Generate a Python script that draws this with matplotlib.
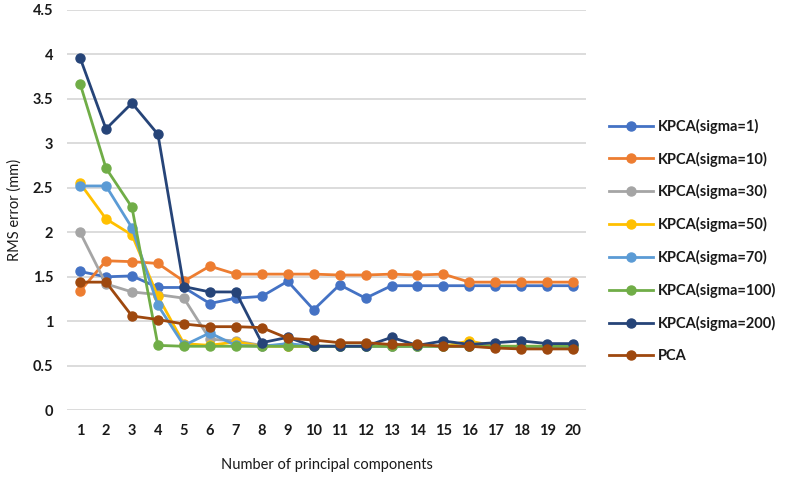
import matplotlib.pyplot as plt
import numpy as np

plt.rcParams['font.family'] = ['Lato', 'DejaVu Sans']

componentes = list(range(1, 21))

kpca_s1 = [1.56, 1.50, 1.51, 1.38, 1.38, 1.20, 1.26, 1.28, 1.45, 1.13,
           1.41, 1.26, 1.40, 1.40, 1.40, 1.40, 1.40, 1.40, 1.40, 1.40]
kpca_s10 = [1.34, 1.68, 1.67, 1.65, 1.45, 1.62, 1.53, 1.53, 1.53, 1.53,
            1.52, 1.52, 1.53, 1.52, 1.53, 1.44, 1.44, 1.44, 1.44, 1.44]
kpca_s30 = [2.00, 1.42, 1.33, 1.30, 1.26, 0.80, 0.78, 0.73, 0.72, 0.72,
            0.72, 0.72, 0.72, 0.72, 0.72, 0.72, 0.71, 0.70, 0.70, 0.70]
kpca_s50 = [2.55, 2.15, 1.97, 1.28, 0.75, 0.73, 0.77, 0.72, 0.72, 0.72,
            0.72, 0.72, 0.72, 0.72, 0.72, 0.78, 0.72, 0.72, 0.72, 0.72]
kpca_s70 = [2.52, 2.52, 2.05, 1.18, 0.73, 0.87, 0.73, 0.72, 0.75, 0.72,
            0.72, 0.72, 0.72, 0.72, 0.72, 0.72, 0.72, 0.71, 0.70, 0.70]
kpca_s100 = [3.67, 2.72, 2.28, 0.73, 0.72, 0.72, 0.72, 0.72, 0.72, 0.72,
             0.72, 0.72, 0.72, 0.72, 0.72, 0.72, 0.72, 0.72, 0.72, 0.72]
kpca_s200 = [3.96, 3.16, 3.45, 3.10, 1.39, 1.33, 1.33, 0.76, 0.82, 0.72,
             0.72, 0.72, 0.82, 0.73, 0.78, 0.74, 0.76, 0.78, 0.75, 0.75]
pca = [1.44, 1.44, 1.06, 1.02, 0.97, 0.94, 0.94, 0.93, 0.81, 0.79,
       0.76, 0.76, 0.74, 0.74, 0.72, 0.72, 0.70, 0.69, 0.69, 0.69]

series = [
    ("KPCA(sigma=1)", kpca_s1, "#4472C4"),
    ("KPCA(sigma=10)", kpca_s10, "#ED7D31"),
    ("KPCA(sigma=30)", kpca_s30, "#A5A5A5"),
    ("KPCA(sigma=50)", kpca_s50, "#FFC000"),
    ("KPCA(sigma=70)", kpca_s70, "#5B9BD5"),
    ("KPCA(sigma=100)", kpca_s100, "#70AD47"),
    ("KPCA(sigma=200)", kpca_s200, "#264478"),
    ("PCA", pca, "#9E480E"),
]

fig = plt.figure(figsize=(7.89, 4.80), dpi=100)
ax = fig.add_axes([0.085, 0.145, 0.658, 0.835])

for nombre, valores, color in series:
    ax.plot(componentes, valores, color=color, lw=2.0, marker='o',
            markersize=6.5, label=nombre)

ax.set_xlim(0.5, 20.5)
ax.set_ylim(0, 4.5)
ax.set_xticks(componentes)
ax.set_yticks(np.arange(0, 4.51, 0.5))
ax.set_yticklabels(['0', '0.5', '1', '1.5', '2', '2.5', '3', '3.5', '4', '4.5'])
ax.grid(axis='y', color='#D9D9D9', lw=1.3)
ax.set_axisbelow(True)
for s in ax.spines.values():
    s.set_visible(False)
ax.tick_params(length=0, labelsize=10.5, colors='#1a1a1a', pad=10)
for t in ax.get_xticklabels() + ax.get_yticklabels():
    t.set_fontweight('bold')

ax.set_xlabel('Number of principal components', fontsize=10.5,
              color='#1a1a1a', labelpad=14)
ax.set_ylabel('RMS error (mm)', fontsize=10.5, color='#1a1a1a', labelpad=8)

leg = fig.legend(loc='upper left', bbox_to_anchor=(0.765, 0.765), frameon=False,
                 fontsize=10.5, labelspacing=1.22, handlelength=3.0,
                 handletextpad=0.3, borderaxespad=0)
for t in leg.get_texts():
    t.set_fontweight('bold')
    t.set_color('#1a1a1a')

fig.savefig('out.png', dpi=100)
